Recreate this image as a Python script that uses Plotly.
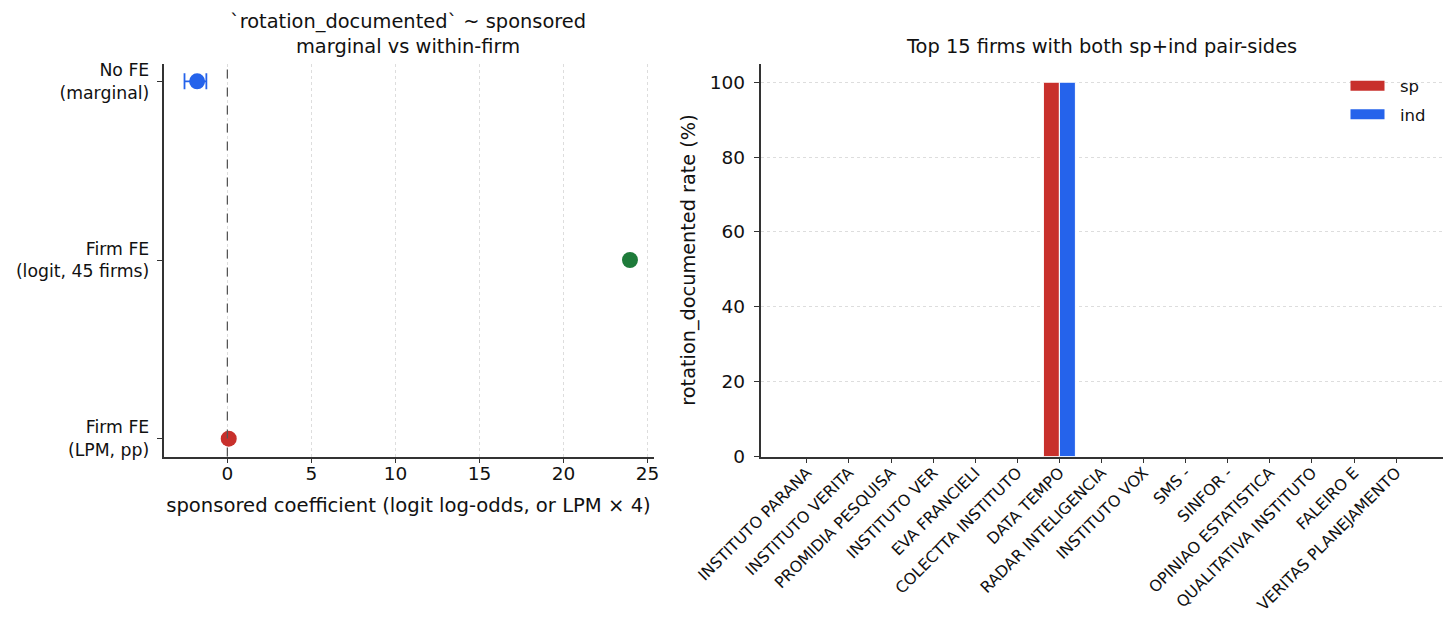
import plotly.graph_objects as go

# ---- Left panel data ----
models = ["No FE<br>(marginal)", "Firm FE<br>(logit, 45 firms)", "Firm FE<br>(LPM, pp)"]
coef = [-1.8, 23.95, 0.08]
err_plus = [0.55, None, None]
err_minus = [0.75, None, None]
model_colors = ["#2563eb", "#1e7b3a", "#c8302c"]

# ---- Right panel data ----
firms = ["INSTITUTO PARANA", "INSTITUTO VERITA", "PROMIDIA PESQUISA", "INSTITUTO VER",
         "EVA FRANCIELI", "COLECTTA INSTITUTO", "DATA TEMPO", "RADAR INTELIGENCIA",
         "INSTITUTO VOX", "SMS -", "SINFOR -", "OPINIAO ESTATISTICA",
         "QUALITATIVA INSTITUTO", "FALEIRO E", "VERITAS PLANEJAMENTO"]
sp_rate = [0, 0, 0, 0, 0, 0, 100, 0, 0, 0, 0, 0, 0, 0, 0]
ind_rate = [0, 0, 0, 0, 0, 0, 100, 0, 0, 0, 0, 0, 0, 0, 0]
series_names = ["sp", "ind"]

RED = "#c8302c"
BLUE = "#2563eb"
FONT = "DejaVu Sans"
TXT = "#111111"
W, H = 1456, 629
OFF = 7.5  # page offset compensation


def px_x(p):
    return (p - OFF) / W


def px_y(p):
    return 1 - (p - OFF) / H


fig = go.Figure()

ypos = list(range(len(models)))
# left: points (first one with error bar)
fig.add_trace(go.Scatter(
    x=[coef[0]], y=[ypos[0]], mode="markers",
    marker=dict(size=16, color=model_colors[0]),
    error_x=dict(type="data", symmetric=False, array=[err_plus[0]], arrayminus=[err_minus[0]],
                 color=model_colors[0], thickness=1.8, width=8),
    xaxis="x", yaxis="y", showlegend=False))
fig.add_trace(go.Scatter(
    x=coef[1:], y=ypos[1:], mode="markers",
    marker=dict(size=16, color=model_colors[1:]),
    xaxis="x", yaxis="y", showlegend=False))

# right: grouped bars
xi = list(range(len(firms)))
fig.add_trace(go.Bar(x=xi, y=sp_rate, name=series_names[0],
                     marker=dict(color=RED, line=dict(color="white", width=1)),
                     offset=-0.38, width=0.38, xaxis="x2", yaxis="y2", showlegend=False))
fig.add_trace(go.Bar(x=xi, y=ind_rate, name=series_names[1],
                     marker=dict(color=BLUE, line=dict(color="white", width=1)),
                     offset=0.0, width=0.38, xaxis="x2", yaxis="y2", showlegend=False))
# legend proxies
for nm, col, grp in zip(series_names, [RED, BLUE], ["a", "b"]):
    fig.add_trace(go.Scatter(x=[None], y=[None], mode="lines", name="\u00a0\u00a0" + nm,
                             legendgroup=grp, line=dict(color=col, width=11),
                             xaxis="x2", yaxis="y2"))


def ax(size=18.5, **kw):
    d = dict(showline=True, linecolor="#333333", linewidth=1.5, ticks="outside",
             ticklen=5, tickwidth=1.2, tickcolor="#333333", mirror=False,
             zeroline=False, automargin=False,
             tickfont=dict(family=FONT, size=size, color=TXT))
    d.update(kw)
    return d


ydom = [px_y(456), px_y(63)]

fig.update_layout(
    width=W, height=H,
    margin=dict(l=0, r=0, t=0, b=0),
    paper_bgcolor="white", plot_bgcolor="white",
    font=dict(family=FONT, color=TXT),
    barmode="overlay",
    xaxis=ax(domain=[px_x(163), px_x(653)], range=[-3.8, 25.35],
             tickvals=[0, 5, 10, 15, 20, 25], ticklabelstandoff=-5,
             showgrid=True, gridcolor="#dddddd", griddash="dot", gridwidth=1,
             title=dict(text="sponsored coefficient (logit log-odds, or LPM × 4)",
                        font=dict(family=FONT, size=19.6), standoff=15)),
    yaxis=ax(size=17.3, domain=ydom, range=[2.1, -0.1], tickvals=ypos, ticktext=models,
             showgrid=False, anchor="x", ticklabelstandoff=4),
    xaxis2=ax(size=15.8, domain=[px_x(760), px_x(1442)], range=[-1.1, 15.1], anchor="y2",
              tickvals=xi, ticktext=firms, tickangle=-45, showgrid=False,
              ticklabelstandoff=-6),
    yaxis2=ax(domain=ydom, range=[0, 105], anchor="x2",
              tickvals=[0, 20, 40, 60, 80, 100], ticklabelstandoff=5,
              showgrid=True, gridcolor="#dddddd", griddash="dot", gridwidth=1,
              title=dict(text="rotation_documented rate (%)",
                         font=dict(family=FONT, size=19.3), standoff=9)),
    legend=dict(x=px_x(1345), y=px_y(68), xanchor="left", yanchor="top",
                bgcolor="rgba(0,0,0,0)", font=dict(family=FONT, size=16.5, color=TXT),
                itemwidth=34, tracegroupgap=4),
)

fig.add_shape(type="line", x0=0, x1=0, y0=0, y1=1, xref="x", yref="y domain",
              line=dict(color="#555555", width=1.3, dash="dash"))

fig.add_annotation(text="`rotation_documented` ~ sponsored<br>marginal vs within-firm",
                   x=(px_x(163) + px_x(653)) / 2, y=ydom[1], xref="paper", yref="paper",
                   xanchor="center", yanchor="bottom", yshift=4, showarrow=False,
                   font=dict(family=FONT, size=19.4, color=TXT))
fig.add_annotation(text="Top 15 firms with both sp+ind pair-sides",
                   x=(px_x(760) + px_x(1442)) / 2, y=ydom[1], xref="paper", yref="paper",
                   xanchor="center", yanchor="bottom", yshift=4, showarrow=False,
                   font=dict(family=FONT, size=19.4, color=TXT))

fig.write_html("out.html")
